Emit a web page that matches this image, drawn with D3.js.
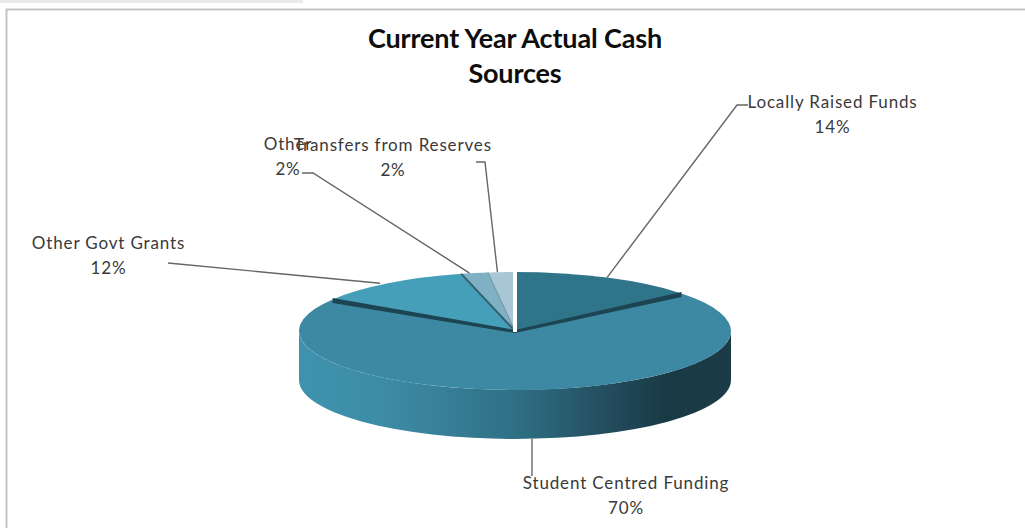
<!DOCTYPE html>
<html>
<head>
<meta charset="utf-8">
<script src="https://cdn.jsdelivr.net/npm/d3@7/dist/d3.min.js"></script>
<style>
html,body{margin:0;padding:0;background:#fff;overflow:hidden}
svg{display:block}
text{font-family:Lato,"Open Sans",sans-serif;fill:#3a3a3a}
</style>
</head>
<body>
<svg id="chart" width="1025" height="528"></svg>
<script>
// Cash sources, percent of total, clockwise from twelve o'clock
const categories = ["Locally Raised Funds", "Student Centred Funding", "Other Govt Grants", "Other", "Transfers from Reserves"];
const shares = [14, 70, 12, 2, 2];
const percentLabels = ["14%", "70%", "12%", "2%", "2%"];
const titleLines = ["Current Year Actual Cash", "Sources"];
const sliceColors = ["#2f7488", "#3d89a3", "#459fb9", "#7fb1c4", "#a9c6d5"];

// Label anchors, leader elbows and a small shift of where each leader meets its slice
const labelLayout = [
  {x: 832.5, y: 102, elbow: [[748, 105], [737, 105]], tipDx: 0},
  {x: 626, y: 483, elbow: [[532, 476]], tipDx: 0},
  {x: 108.5, y: 243, elbow: [[168, 263]], tipDx: -8},
  {x: 288, y: 144, elbow: [[302, 173], [313, 173]], tipDx: -5},
  {x: 393, y: 145, elbow: [[476, 162], [485, 162]], tipDx: -4}
];

const cx = 515, cy = 331, rx = 216, ry = 59, depth = 49;

const svg = d3.select("#chart");
const defs = svg.append("defs");

// Horizontal shading of the pie's outer wall
const wall = defs.append("linearGradient").attr("id", "wall");
[[0, "#3f93ae"], [0.2, "#3d8ba6"], [0.5, "#2f7085"], [0.72, "#234c5d"], [0.85, "#183a45"], [1, "#1b3c47"]]
  .forEach(([o, c]) => wall.append("stop").attr("offset", o).attr("stop-color", c));

// Chart frame and the pale strip above it
svg.append("rect").attr("x", 0).attr("y", 0).attr("width", 303).attr("height", 3).attr("fill", "#e8e9ec");
svg.append("path").attr("d", "M6.5,528V9.5H1025").attr("fill", "none").attr("stroke", "#c4c4c4").attr("stroke-width", 2);

const pieAngles = d3.pie().sort(null).value(d => d)(shares);
const px = a => cx + rx * Math.sin(a);
const py = a => cy - ry * Math.cos(a);

// Outer wall of the slice that wraps the front of the pie
const big = pieAngles[1];
const wallStart = Math.max(big.startAngle, Math.PI / 2);
const wallEnd = Math.min(big.endAngle, Math.PI * 3 / 2);
svg.append("path")
  .attr("fill", "url(#wall)")
  .attr("d", `M${px(wallEnd)},${py(wallEnd)}` +
    `A${rx},${ry} 0 0 0 ${px(wallStart)},${py(wallStart)}` +
    `V${py(wallStart) + depth}` +
    `A${rx},${ry} 0 0 1 ${px(wallEnd)},${py(wallEnd) + depth}Z`);

// Slice faces, an arc flattened into an ellipse
const arc = d3.arc().innerRadius(0).outerRadius(rx);
const faces = svg.append("g").attr("transform", `translate(${cx},${cy}) scale(1,${ry / rx})`);
faces.selectAll("path").data(pieAngles).join("path")
  .attr("d", arc)
  .attr("fill", (d, i) => sliceColors[i]);

// Dark band where the big slice's cut edges meet its neighbours, a little wider at the rim
const edgeEnds = [big.startAngle, big.endAngle];
svg.append("g").selectAll("path").data(edgeEnds).join("path")
  .attr("d", a => `M${cx},${cy - 1}L${px(a)},${py(a) - 1.5}L${px(a)},${py(a) + 3.5}L${cx},${cy + 2}Z`)
  .attr("fill", "#1c4452");

// Thin separators among the small slices
const otherStart = pieAngles[3].startAngle, otherEnd = pieAngles[3].endAngle;
svg.append("path")
  .attr("d", `M${cx},${cy}L${px(otherStart)},${py(otherStart)}`)
  .attr("stroke", "#35606f").attr("stroke-width", 2).attr("fill", "none");
svg.append("path")
  .attr("d", `M${cx},${cy}L${px(otherEnd)},${py(otherEnd)}`)
  .attr("stroke", "#6f8f9e").attr("stroke-width", 1).attr("fill", "none");

// White seam at twelve o'clock
svg.append("path")
  .attr("d", `M${cx},${cy + 1}V${py(0) - 1}`)
  .attr("stroke", "#fff").attr("stroke-width", 4).attr("fill", "none");

// Leader lines run from each slice's mid-angle out to its label
const leader = d3.line();
svg.append("g").selectAll("path").data(pieAngles).join("path")
  .attr("fill", "none").attr("stroke", "#666").attr("stroke-width", 1.4)
  .attr("d", (d, i) => {
    const mid = (d.startAngle + d.endAngle) / 2;
    const layout = labelLayout[i];
    let start;
    if (Math.cos(mid) < 0) {
      // Front slice: drop straight from the wall's lower rim
      const x = layout.elbow[0][0];
      start = [x, cy + depth + ry * Math.sqrt(1 - ((x - cx) / rx) ** 2)];
    } else {
      start = [px(mid) + layout.tipDx, py(mid)];
    }
    return leader([start, ...layout.elbow.slice().reverse()]);
  });

// Category and percent labels
const labels = svg.append("g").selectAll("g").data(categories).join("g")
  .attr("transform", (d, i) => `translate(${labelLayout[i].x},${labelLayout[i].y})`)
  .attr("text-anchor", "middle")
  .attr("font-size", 17).attr("letter-spacing", 0.85);
labels.append("text").attr("y", 6).text(d => d);
labels.append("text").attr("y", 31).text((d, i) => percentLabels[i]);

// Title
svg.append("g").selectAll("text").data(titleLines).join("text")
  .attr("x", 515).attr("y", (d, i) => 48 + i * 35)
  .attr("text-anchor", "middle").attr("font-size", 27).attr("font-weight", 700)
  .attr("letter-spacing", -0.15).style("fill", "#0d0d0d")
  .text(d => d);
</script>
</body>
</html>
